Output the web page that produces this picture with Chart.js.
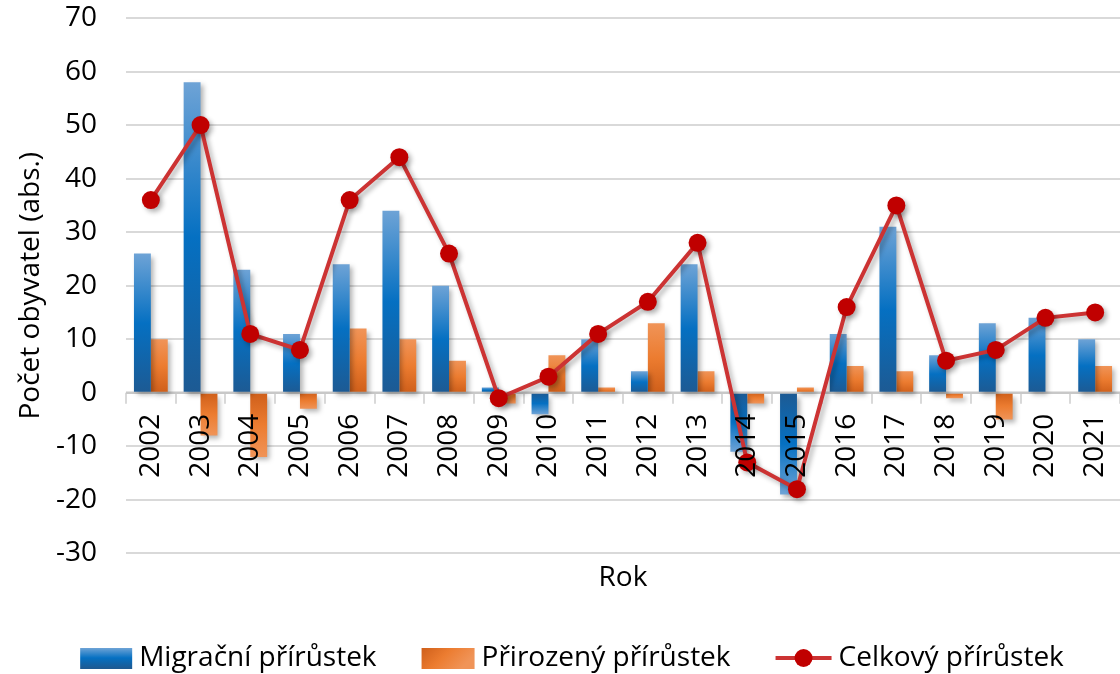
<!DOCTYPE html>
<html>
<head>
<meta charset="utf-8">
<script src="https://cdn.jsdelivr.net/npm/chart.js@4"></script>
<style>
  html, body { margin: 0; padding: 0; background: #fff; }
  #wrap { width: 1120px; height: 674px; position: relative; }
</style>
</head>
<body>
<div id="wrap"><canvas id="chart"></canvas></div>
<script>
// data
const roky = ["2002", "2003", "2004", "2005", "2006", "2007", "2008", "2009", "2010", "2011",
              "2012", "2013", "2014", "2015", "2016", "2017", "2018", "2019", "2020", "2021"];
const migracni = [26, 58, 23, 11, 24, 34, 20, 1, -4, 10, 4, 24, -11, -19, 11, 31, 7, 13, 14, 10];
const prirozeny = [10, -8, -12, -3, 12, 10, 6, -2, 7, 1, 13, 4, -2, 1, 5, 4, -1, -5, 0, 5];
const celkovy = [36, 50, 11, 8, 36, 44, 26, -1, 3, 11, 17, 28, -13, -18, 16, 35, 6, 8, 14, 15];
const yMin = -30, yMax = 70, yStep = 10;

const FONT = "'Open Sans', 'Noto Sans', sans-serif";
const blueStops = ["#1d5a93", "#0570c2", "#6ea3d6"];
const orangeStops = ["#cf5f1a", "#ec7c30", "#f09458"];
const lineColor = "#cc3333";
const pointColor = "#c00000";

// gradient from zero line (dark) to tip of bar (light)
function barGradient(stops) {
    return function(c) {
        const chart = c.chart;
        if (!chart.chartArea || c.raw === undefined) return stops[1];
        const y = chart.scales.y;
        const base = y.getPixelForValue(0);
        let tip = y.getPixelForValue(c.raw);
        if (Math.abs(tip - base) < 1) tip = base - 1;
        const g = chart.ctx.createLinearGradient(0, base, 0, tip);
        g.addColorStop(0, stops[0]);
        g.addColorStop(0.5, stops[1]);
        g.addColorStop(1, stops[2]);
        return g;
    };
}

// soft shadow under bars and line
const shadowPlugin = {
    id: "shadow",
    beforeDatasetDraw(chart) {
        const ctx = chart.ctx;
        ctx.save();
        ctx.shadowColor = "rgba(0,0,0,0.3)";
        ctx.shadowBlur = 5;
        ctx.shadowOffsetX = 3;
        ctx.shadowOffsetY = 3;
    },
    afterDatasetDraw(chart) {
        chart.ctx.restore();
    }
};

// zero axis line, tick marks and category labels at zero
const zeroAxisPlugin = {
    id: "zeroAxis",
    beforeDatasetsDraw(chart) {
        const ctx = chart.ctx, y = chart.scales.y;
        const y0 = y.getPixelForValue(0);
        const area = chart.chartArea;
        const step = (area.right - area.left) / roky.length;
        ctx.save();
        ctx.strokeStyle = "#d9d9d9";
        ctx.lineWidth = 2;
        for (let i = 0; i <= roky.length; i++) {
            const px = Math.round(area.left + i * step);
            ctx.beginPath(); ctx.moveTo(px, y0); ctx.lineTo(px, y0 + 11); ctx.stroke();
        }
        ctx.strokeStyle = "#c8c8c8";
        ctx.lineWidth = 2.5;
        ctx.beginPath(); ctx.moveTo(area.left, y0); ctx.lineTo(area.right, y0); ctx.stroke();
        ctx.restore();
    },
    afterDatasetsDraw(chart) {
        const ctx = chart.ctx, x = chart.scales.x, y = chart.scales.y;
        const y0 = y.getPixelForValue(0);
        ctx.save();
        ctx.fillStyle = "#000";
        ctx.font = "28px " + FONT;
        ctx.textAlign = "right";
        ctx.textBaseline = "middle";
        roky.forEach((r, i) => {
            ctx.save();
            ctx.translate(x.getPixelForValue(i), y0 + 21);
            ctx.rotate(-Math.PI / 2);
            ctx.fillText(r, 0, 0);
            ctx.restore();
        });
        ctx.restore();
    }
};

// legend drawn by hand at the bottom
const legendPlugin = {
    id: "ownLegend",
    afterDraw(chart) {
        const ctx = chart.ctx;
        const items = chart.data.datasets.map(ds => ds.label);
        const iconW = [52, 53, 56], iconGap = 7, itemGap = 45;
        ctx.save();
        ctx.font = "28px " + FONT;
        const widths = items.map((t, i) => iconW[i] + iconGap + ctx.measureText(t).width);
        const total = widths.reduce((a, b) => a + b, 0) + itemGap * (items.length - 1);
        let cx = 572 - total / 2;
        const cy = chart.height - 16;
        items.forEach((t, i) => {
            if (i === 0) {
                const g = ctx.createLinearGradient(0, cy - 10, 0, cy + 10);
                g.addColorStop(0, blueStops[2]);
                g.addColorStop(0.5, blueStops[1]);
                g.addColorStop(1, blueStops[0]);
                ctx.fillStyle = g;
                ctx.fillRect(cx, cy - 10, iconW[i], 21);
            } else if (i === 1) {
                const g = ctx.createLinearGradient(cx, cy - 10, cx + 30, cy + 20);
                g.addColorStop(0, orangeStops[0]);
                g.addColorStop(0.5, orangeStops[1]);
                g.addColorStop(1, orangeStops[2]);
                ctx.fillStyle = g;
                ctx.fillRect(cx, cy - 10, iconW[i], 21);
            } else {
                ctx.strokeStyle = lineColor;
                ctx.lineWidth = 4;
                ctx.beginPath(); ctx.moveTo(cx, cy); ctx.lineTo(cx + iconW[i], cy); ctx.stroke();
                ctx.fillStyle = pointColor;
                ctx.beginPath(); ctx.arc(cx + iconW[i] / 2, cy, 9, 0, Math.PI * 2); ctx.fill();
            }
            ctx.fillStyle = "#000";
            ctx.textAlign = "left";
            ctx.textBaseline = "middle";
            ctx.fillText(t, cx + iconW[i] + iconGap, cy);
            cx += widths[i] + itemGap;
        });
        ctx.restore();
    }
};

new Chart(document.getElementById("chart"), {
    type: "bar",
    data: {
        labels: roky,
        datasets: [
            {
                label: "Migrační přírůstek",
                data: migracni,
                backgroundColor: barGradient(blueStops),
                order: 1
            },
            {
                label: "Přirozený přírůstek",
                data: prirozeny,
                backgroundColor: barGradient(orangeStops),
                order: 1
            },
            {
                type: "line",
                label: "Celkový přírůstek",
                data: celkovy,
                borderColor: lineColor,
                borderWidth: 4,
                pointRadius: 9,
                pointHoverRadius: 9,
                pointBackgroundColor: pointColor,
                pointBorderColor: pointColor,
                pointBorderWidth: 0,
                tension: 0,
                order: 0
            }
        ]
    },
    options: {
        responsive: true,
        maintainAspectRatio: false,
        animation: false,
        datasets: {
            bar: { categoryPercentage: 0.68, barPercentage: 1.0 }
        },
        layout: { autoPadding: false, padding: { top: 18, left: 14, right: 0, bottom: 79 } },
        scales: {
            x: {
                grid: { display: false, drawTicks: false },
                border: { display: false },
                ticks: { display: false },
                title: {
                    display: true,
                    text: "Rok",
                    color: "#000",
                    font: { family: FONT, size: 28 },
                    padding: { top: 8, bottom: 0 }
                }
            },
            y: {
                min: yMin,
                max: yMax,
                afterFit(scale) {
                    scale.width = 112;
                    scale.paddingTop = 0;
                    scale.paddingBottom = 0;
                },
                ticks: {
                    stepSize: yStep,
                    color: "#000",
                    padding: 29,
                    font: { family: FONT, size: 28 }
                },
                grid: { color: "#d9d9d9", lineWidth: 2, drawTicks: false },
                border: { display: false },
                title: {
                    display: true,
                    text: "Počet obyvatel (abs.)",
                    color: "#000",
                    font: { family: FONT, size: 28 },
                    padding: { top: 0, bottom: 0 }
                }
            }
        },
        plugins: {
            legend: { display: false },
            tooltip: { enabled: false }
        }
    },
    plugins: [shadowPlugin, zeroAxisPlugin, legendPlugin]
});
</script>
</body>
</html>
